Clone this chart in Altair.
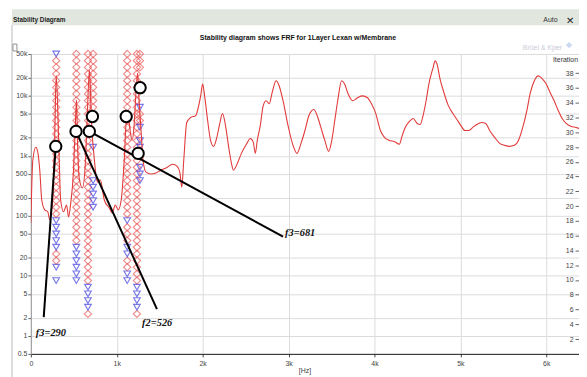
import altair as alt
import pandas as pd

# ---------------- data ----------------
frf_hz = [0, 23, 58, 81, 104, 127, 162, 197, 220, 254,
          277, 295, 324, 347, 381, 416, 439, 462, 497, 520,
          532, 543, 566, 601, 636, 659, 682, 705, 740, 775,
          809, 855, 913, 948, 983, 1017, 1052, 1087, 1110, 1133,
          1156, 1179, 1202, 1225, 1243, 1260, 1283, 1306, 1341, 1399,
          1457, 1514, 1572, 1653, 1699, 1734, 1757, 1780, 1815, 1861,
          1919, 1954, 1977, 2000, 2023, 2058, 2092, 2127, 2162, 2197,
          2231, 2266, 2300, 2335, 2358, 2405, 2451, 2509, 2555, 2590,
          2613, 2636, 2671, 2705, 2740, 2775, 2809, 2855, 2890, 2936,
          2994, 3052, 3098, 3145, 3191, 3237, 3295, 3341, 3376, 3422,
          3468, 3503, 3538, 3572, 3618, 3653, 3688, 3746, 3803, 3861,
          3919, 3965, 4012, 4069, 4116, 4173, 4231, 4289, 4324, 4358,
          4405, 4451, 4497, 4532, 4566, 4601, 4636, 4682, 4705, 4728,
          4763, 4809, 4855, 4913, 4960, 5006, 5052, 5098, 5145, 5191,
          5249, 5295, 5341, 5399, 5457, 5514, 5572, 5630, 5676, 5723,
          5769, 5815, 5861, 5907, 5954, 6000, 6046, 6092, 6139, 6185,
          6231, 6289, 6347, 6381]
frf_val = [77, 846, 1390, 1150, 578, 184, 126, 117, 86, 184,
           1810, 22000, 1810, 184, 117, 152, 96, 152, 578, 3900,
           8500, 1810, 400, 291, 846, 5700, 27000, 3900, 846, 365,
           400, 184, 135, 112, 152, 126, 184, 846, 3600, 4700,
           2650, 1810, 3200, 12200, 24000, 8300, 2650, 846, 535, 500,
           520, 578, 625, 726, 680, 535, 302, 846, 3600, 4360,
           4700, 6900, 10000, 15800, 10000, 3900, 1810, 1440, 1950, 3340,
           5080, 3200, 1500, 755, 578, 755, 1100, 1560, 1950, 1680,
           1100, 1810, 3200, 6900, 8300, 7400, 11300, 17900, 14800, 8300,
           3200, 1500, 1100, 1620, 2650, 4700, 5920, 4360, 2980, 1810,
           1190, 1810, 3900, 8300, 17900, 15800, 11300, 8300, 9300, 10000,
           9300, 7400, 5270, 2650, 2030, 1810, 1740, 1560, 2200, 2980,
           3740, 4200, 3470, 3340, 4700, 8300, 16500, 29300, 38300, 34100,
           19300, 11300, 7160, 5080, 4040, 3200, 2650, 2650, 2980, 3340,
           3600, 3470, 2650, 2030, 1620, 1500, 1440, 1500, 1810, 2870,
           5270, 11300, 17900, 21600, 19300, 15800, 11300, 8300, 5700, 4200,
           3470, 3090, 2980, 2870]

# stability columns: frequency and (first, last) order spans
col_hz = [295, 530, 665, 725, 1122, 1235, 1270]
col_diamond_spans = [
    [(14, 15), (21, 44)],
    [(17, 45)],
    [(6, 6), (11, 45)],
    [(37, 45)],
    [(13, 14), (17, 19), (21, 45)],
    [(6, 6), (11, 45)],
    [(35, 36), (43, 45)],
]
col_triangle_spans = [
    [(11, 11), (13, 13), (16, 20), (45, 45)],
    [(11, 16)],
    [(7, 10)],
    [(22, 26), (31, 31)],
    [(11, 12), (15, 16), (20, 20)],
    [(7, 10)],
    [(26, 28), (30, 32), (34, 34), (37, 37)],
]

# selected poles (circles)
sel_hz = [290, 526, 681, 717, 1110, 1272, 1249]
sel_val = [1440, 2560, 2560, 4530, 4530, 13700, 1100]

# annotations
ann_text = ["f3=290", "f2=526", "f3=681"]
ann_from_hz = [290, 526, 681]
ann_from_val = [1440, 2560, 2560]
ann_to_hz = [150, 1468, 2936]
ann_to_val = [2.05, 2.78, 45]
ann_text_hz = [58, 1295, 2960]
ann_text_val = [1.0, 1.45, 46.7]

y_ticks = [0.5, 1, 2, 5, 10, 20, 50, 100, 200, 500, 1000, 2000, 5000, 10000, 20000, 50000]
y_tick_labels = ["0.5", "1", "2", "5", "10", "20", "50", "100", "200", "500",
                 "1k", "2k", "5k", "10k", "20k", "50k"]
x_ticks = [0, 1000, 2000, 3000, 4000, 5000, 6000]
x_tick_labels = ["0", "1k", "2k", "3k", "4k", "5k", "6k"]
iter_ticks = [2, 4, 6, 8, 10, 12, 14, 16, 18, 20, 22, 24, 26, 28, 30, 32, 34, 36, 38]

title_text = "Stability diagram shows FRF for 1Layer Lexan w/Membrane"

# ---------------- tables ----------------
frf_df = pd.DataFrame({"hz": frf_hz, "val": frf_val})
rows = []
for f, dsp, tsp in zip(col_hz, col_diamond_spans, col_triangle_spans):
    for a, b in dsp:
        for k in range(a, b + 1):
            rows.append({"hz": f, "order": k, "kind": "dia"})
    for a, b in tsp:
        for k in range(a, b + 1):
            rows.append({"hz": f, "order": k, "kind": "tri"})
mk_df = pd.DataFrame(rows)
sel_df = pd.DataFrame({"hz": sel_hz, "val": sel_val})
ann_df = pd.DataFrame({"hz": ann_from_hz, "val": ann_from_val,
                       "hz2": ann_to_hz, "val2": ann_to_val})
lab_df = pd.DataFrame({"hz": ann_text_hz, "val": ann_text_val, "t": ann_text})
it_df = pd.DataFrame({"it": iter_ticks})
one = pd.DataFrame({"a": [0]})


def lexpr(vals, labs):
    s = "''"
    for v, l in reversed(list(zip(vals, labs))):
        s = f"datum.value == {v} ? '{l}' : ({s})"
    return s


FONT = "Liberation Sans"
xs = alt.Scale(domain=[0, 6381], nice=False, zero=False)
ys = alt.Scale(type="log", domain=[0.5, 50000], nice=False)
os_ = alt.Scale(domain=[0, 45], nice=False, zero=True)
its = alt.Scale(domain=[0, 40.6], nice=False, zero=True)

x_axis = alt.Axis(values=x_ticks, labelExpr=lexpr(x_ticks, x_tick_labels), tickSize=3,
                  labelPadding=3, labelFontSize=7, labelFont=FONT, labelColor="#444",
                  domainColor="#222", tickColor="#444", grid=True, gridColor="#dcdcdc",
                  title=None, labelFlush=False, labelOverlap=False)
y_axis = alt.Axis(orient="left", values=y_ticks, labelExpr=lexpr(y_ticks, y_tick_labels),
                  tickSize=3, labelPadding=1, labelFontSize=7, labelFont=FONT,
                  labelColor="#444", domainColor="#999", tickColor="#666", grid=True,
                  gridColor="#dcdcdc", title=None, labelFlush=False, labelOverlap=False)
it_axis = alt.Axis(orient="left", offset=-552, values=iter_ticks, tickSize=4, labelPadding=2,
                   domain=False, grid=False, labelFontSize=7, labelFont=FONT,
                   labelColor="#444", tickColor="#666", title=None, labelFlush=False,
                   labelOverlap=False)

X = alt.X("hz:Q", scale=xs, axis=x_axis)

markers = alt.Chart(mk_df).mark_point(filled=False, strokeWidth=1.15).encode(
    x=X,
    y=alt.Y("order:Q", scale=os_, axis=None),
    shape=alt.Shape("kind:N", scale=alt.Scale(domain=["dia", "tri"],
                                              range=["diamond", "triangle-down"]), legend=None),
    color=alt.Color("kind:N", scale=alt.Scale(domain=["dia", "tri"],
                                              range=["#ea5c5c", "#3f3fe0"]), legend=None),
    size=alt.Size("kind:N", scale=alt.Scale(domain=["dia", "tri"], range=[52, 44]),
                  legend=None),
)

Y = alt.Y("val:Q", scale=ys, axis=y_axis)
line = alt.Chart(frf_df).mark_line(color="#e23a3a", strokeWidth=1.1, clip=True,
                                   interpolate="monotone").encode(x=X, y=Y)
rules = alt.Chart(ann_df).mark_rule(color="black", strokeWidth=2).encode(
    x=X, x2="hz2:Q", y=Y, y2="val2:Q")
circles = alt.Chart(sel_df).mark_circle(size=130, color="white", opacity=1, stroke="black",
                                        strokeWidth=2).encode(x=X, y=Y)
labels = alt.Chart(lab_df).mark_text(font="Liberation Serif", fontStyle="italic",
                                     fontWeight="bold", fontSize=10.5,
                                     align="left", baseline="alphabetic", color="#111").encode(
    x=X, y=Y, text="t:N")
frf_group = alt.layer(line, rules, circles, labels)

it_layer = alt.Chart(it_df).mark_point(opacity=0).encode(
    y=alt.Y("it:Q", scale=its, axis=it_axis))

# ---------------- decorations (panel frame) ----------------
header = alt.Chart(one).mark_rect(color="#e1e7de").encode(
    x=alt.value(-19), x2=alt.value(552), y=alt.value(-45), y2=alt.value(-29))
frame = alt.Chart(one).mark_rule(color="#bbbbbb", strokeWidth=1).encode(
    x=alt.value(-19), y=alt.value(-29), y2=alt.value(330))
hdr_text = alt.Chart(one).mark_text(text="Stability Diagram", font=FONT, fontSize=6.5,
                                    fontWeight="bold", align="left", color="#222").encode(
    x=alt.value(-18), y=alt.value(-34))
auto_text = alt.Chart(one).mark_text(text="Auto", font=FONT, fontSize=7, align="left",
                                     color="#333").encode(x=alt.value(516), y=alt.value(-34))
close_text = alt.Chart(one).mark_text(text="✕", font="DejaVu Sans", fontSize=10,
                                      fontWeight="bold", align="left", color="#222").encode(
    x=alt.value(539), y=alt.value(-33))
title = alt.Chart(one).mark_text(text=title_text, font=FONT, fontSize=7, fontWeight="bold",
                                 align="center", color="#111").encode(
    x=alt.value(269), y=alt.value(-16))
brand = alt.Chart(one).mark_text(text="Brüel & Kjær", font=FONT, fontSize=7, align="right",
                                 color="#c9ced8").encode(x=alt.value(535), y=alt.value(-6))
brand_mark = alt.Chart(one).mark_point(shape="diamond", filled=True, size=40,
                                       color="#b3c9ea").encode(x=alt.value(542), y=alt.value(-9))
corner = alt.Chart(one).mark_rect(fill="white", stroke="#777", strokeWidth=0.8).encode(
    x=alt.value(-18), x2=alt.value(-14), y=alt.value(-10), y2=alt.value(-3))
iter_title = alt.Chart(one).mark_text(text="Iteration", font=FONT, fontSize=7, align="right",
                                      color="#333").encode(x=alt.value(551), y=alt.value(6))
hz_title = alt.Chart(one).mark_text(text="[Hz]", font=FONT, fontSize=7, align="center",
                                    color="#444").encode(x=alt.value(276), y=alt.value(319))

chart = alt.layer(
    header, frame, hdr_text, auto_text, close_text, title, brand, brand_mark, corner,
    markers, frf_group, it_layer, iter_title, hz_title
).resolve_scale(y="independent").properties(
    width=552, height=302,
    padding={"left": 23, "top": 45, "right": 0, "bottom": 22},
    autosize="none",
).configure_view(stroke=None).configure(background="white")

chart.save("out.html", embed_options={"renderer": "svg", "actions": False})
